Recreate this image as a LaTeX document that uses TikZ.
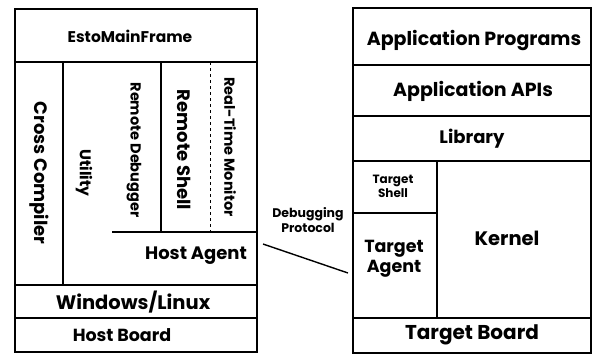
\documentclass[tikz,border=0pt]{standalone}
\usepackage{fontspec}
\setmainfont{Poppins}
\begin{document}
\begin{tikzpicture}[x=1pt,y=-1pt,line join=miter,
  box/.style={draw, line width=1.1pt},
  fs/.style={font=\fontsize{#1}{#1}\selectfont\bfseries, inner sep=0pt, align=center},
  vt/.style={rotate=-90}]
\useasboundingbox (0,0) rectangle (593,354);
% ---------- left (host) stack ----------
\draw[box] (15,9) rectangle (257,352);
\draw[box] (15,62) -- (257,62);
\draw[box] (15,285) -- (257,285);
\draw[box] (15,318) -- (257,318);
\draw[box] (63,62) -- (63,285);
\draw[box] (112,232) -- (257,232);
\draw[box] (161,62) -- (161,232);
\draw[dashed, line width=0.5pt] (210,62) -- (210,232);
\node[fs=15.5] (esto) at (130,36) {EstoMainFrame};
\node[fs=18] (cc) [vt] at (39,173) {Cross Compiler};
\node[fs=15.5] (util) [vt] at (84,173) {Utility};
\node[fs=14.5] (rdbg) [vt] at (134,150) {Remote Debugger};
\node[fs=18] (rsh) [vt] at (184,150) {Remote Shell};
\node[fs=14.5] (rtm) [vt] at (230,147) {Real-Time Monitor};
\node[fs=18] (hagent) at (196,256) {Host Agent};
\node[fs=19.5] (win) at (133,302) {Windows/Linux};
\node[fs=17.5] (hboard) at (122,335) {Host Board};
% ---------- right (target) stack ----------
\draw[box] (353,8) rectangle (591,353);
\draw[box] (353,65) -- (591,65);
\draw[box] (353,116) -- (591,116);
\draw[box] (353,161) -- (591,161);
\draw[box] (353,318) -- (591,318);
\draw[box] (437,161) -- (437,318);
\draw[box] (353,213) -- (437,213);
\node[fs=19] (appprog) at (474,40) {Application Programs};
\node[fs=19] (apis) at (473,91) {Application APIs};
\node[fs=18] (lib) at (472,139) {Library};
\node[fs=12] (tshell) at (393,186) {Target\\[1pt]Shell};
\node[fs=17.5] (tagent) at (394,259) {Target\\[2pt]Agent};
\node[fs=19.5] (kernel) at (507,238) {Kernel};
\node[fs=20] (tboard) at (472,335) {Target Board};
% ---------- protocol ----------
\node[fs=12.5] (proto) at (308,220) {Debugging\\[2pt]Protocol};
\coordinate (pa) at (263,244);
\coordinate (pb) at (348,273);
\draw[line width=1.4pt] (pa) -- (pb);
\end{tikzpicture}
\end{document}
